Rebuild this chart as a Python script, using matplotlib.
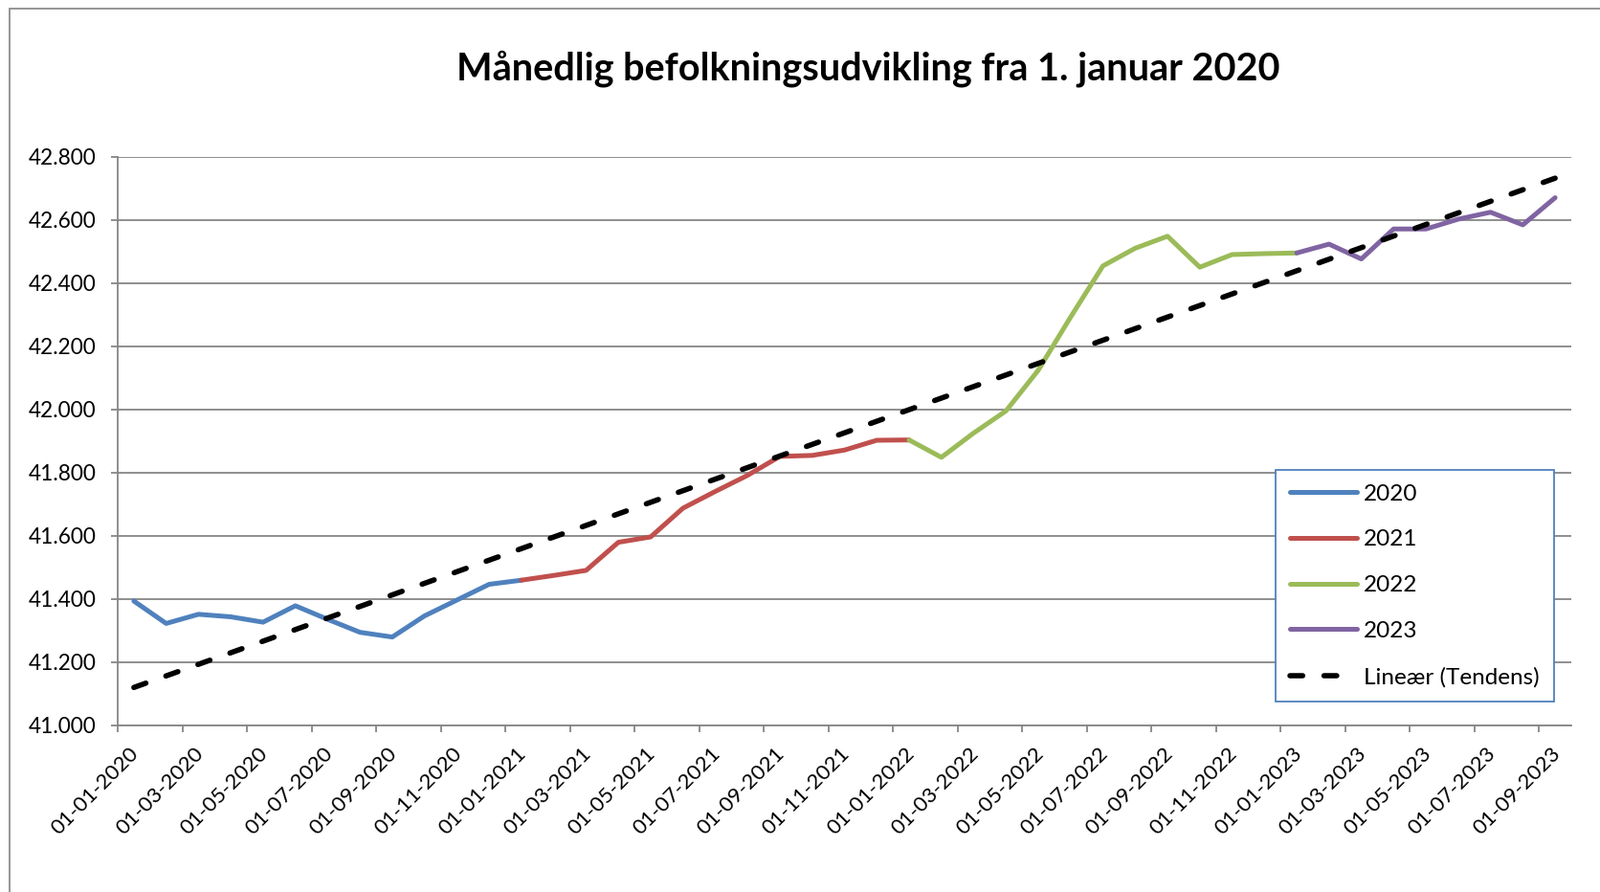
import matplotlib
matplotlib.use("Agg")
import matplotlib.pyplot as plt
import matplotlib.transforms as mtransforms
from matplotlib.patches import Rectangle
from matplotlib.ticker import FuncFormatter
import numpy as np
import pandas as pd

plt.rcParams["font.family"] = ["Lato", "DejaVu Sans"]

# monthly population
pop_2020 = [41394, 41323, 41352, 41344, 41327, 41379, 41336, 41295, 41280, 41347, 41397, 41447]
pop_2021 = [41460, 41475, 41491, 41580, 41597, 41688, 41741, 41792, 41852, 41855, 41872, 41903]
pop_2022 = [41904, 41849, 41926, 41996, 42125, 42293, 42455, 42511, 42549, 42451, 42491, 42494]
pop_2023 = [42496, 42524, 42477, 42572, 42572, 42603, 42625, 42585, 42671]

years = ["2020", "2021", "2022", "2023"]
colors = ["#4F81BD", "#C0504D", "#9BBB59", "#8064A2"]
tick_dates = pd.date_range("2020-01-01", "2023-09-01", freq="2MS")

series = [pop_2020, pop_2021, pop_2022, pop_2023]
all_vals = np.concatenate(series)
x_all = np.arange(len(all_vals)) + 0.5

fig = plt.figure(figsize=(16.72, 9.32), dpi=100)
ax = fig.add_axes([123 / 1672, 1 - 758 / 932, (1642 - 123) / 1672, (758 - 164) / 932])

start = 0
for year, vals, col in zip(years, series, colors):
    n = len(vals)
    stop = min(start + n + 1, len(all_vals))  # join to next year's first point
    ax.plot(x_all[start:stop], all_vals[start:stop], color=col, lw=3.6,
            solid_capstyle="round", solid_joinstyle="round", label=year, zorder=3)
    start += n

# linear trendline
coef = np.polyfit(x_all, all_vals, 1)
ax.plot(x_all, np.polyval(coef, x_all), color="black", lw=4.0, dashes=(2.4, 4.0),
        dash_capstyle="round", label="Lineær (Tendens)", zorder=4)

ax.set_xlim(0, len(all_vals))
ax.set_ylim(41000, 42800)
ax.set_yticks(np.arange(41000, 42801, 200))
ax.yaxis.set_major_formatter(FuncFormatter(lambda v, p: f"{v:,.0f}".replace(",", ".")))
ax.set_xticks(np.arange(0, len(all_vals), 2))
ax.set_xticklabels(tick_dates.strftime("%d-%m-%Y"))

grid_col = "#868686"
ax.grid(axis="y", color=grid_col, lw=1.3)
ax.set_axisbelow(True)
for s in ["top", "right"]:
    ax.spines[s].set_visible(False)
for s in ["left", "bottom"]:
    ax.spines[s].set_color(grid_col)
    ax.spines[s].set_linewidth(1.3)

ax.tick_params(axis="y", length=5, width=1.3, color=grid_col, labelsize=16.3, pad=11)
ax.tick_params(axis="x", length=5, width=1.3, color=grid_col, labelsize=16, pad=14)
offset = mtransforms.ScaledTranslation(0.19, 0, fig.dpi_scale_trans)
for lbl in ax.get_xticklabels():
    lbl.set_rotation(45)
    lbl.set_ha("right")
    lbl.set_va("center")
    lbl.set_rotation_mode("anchor")
    lbl.set_transform(lbl.get_transform() + offset)

fig.text(907 / 1672, 1 - 72 / 932, "Månedlig befolkningsudvikling fra 1. januar 2020",
         ha="center", va="center", fontsize=28.5, fontweight="bold")

leg = ax.legend(loc="upper left", bbox_to_anchor=(1333 / 1672, 1 - 491 / 932),
                bbox_transform=fig.transFigure, borderaxespad=0, fontsize=17.5,
                handlelength=2.9, handletextpad=0.3, labelspacing=1.1,
                borderpad=0.6, fancybox=False, framealpha=1)
leg.get_frame().set_edgecolor("#4F81BD")
leg.get_frame().set_linewidth(1.3)

# chart area border (only left and top visible in the source)
fig.add_artist(Rectangle((10 / 1672, -0.2), 1.5, 1.2 - 8.5 / 932, fill=False,
                         edgecolor="#8C8C8C", lw=1.3, transform=fig.transFigure))

fig.savefig("out.png", dpi=100)
